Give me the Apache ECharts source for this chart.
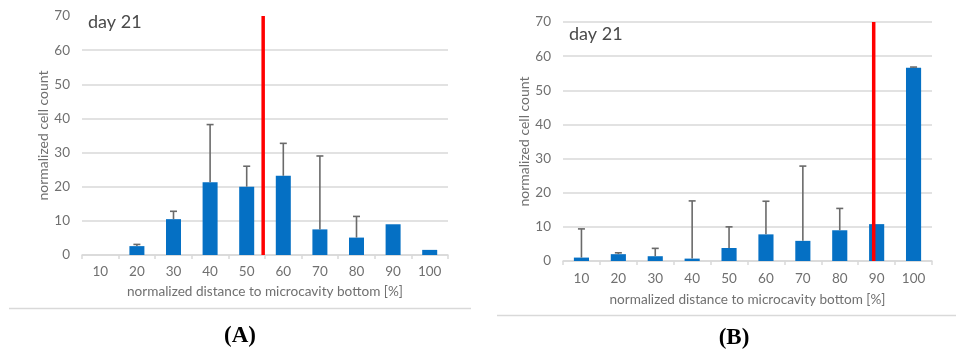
<!DOCTYPE html>
<html>
<head>
<meta charset="utf-8">
<script src="https://cdn.jsdelivr.net/npm/echarts@6/dist/echarts.min.js"></script>
<style>
  html, body { margin: 0; padding: 0; background: #ffffff; }
  #chart { width: 958px; height: 352px; }
</style>
</head>
<body>
<div id="chart"></div>
<script>
// Distance bins (% of microcavity depth)
const categories = ['10', '20', '30', '40', '50', '60', '70', '80', '90', '100'];
const yTicks = [0, 10, 20, 30, 40, 50, 60, 70];

// Panel A: mean normalized cell count and upper end of the error bar
const countsA = [0, 2.6, 10.5, 21.3, 20.0, 23.2, 7.5, 5.1, 9.0, 1.5];
const errTopA = [null, 3.1, 12.8, 38.2, 26.0, 32.7, 29.0, 11.3, null, null];
const markerA = 54.5;

// Panel B
const countsB = [1.0, 2.0, 1.4, 0.7, 3.8, 7.8, 5.9, 9.0, 10.8, 56.6];
const errTopB = [9.4, 2.4, 3.7, 17.6, 10.0, 17.5, 27.8, 15.4, null, 56.8];
const markerB = 89.2;

const FONT = 'Lato, "Open Sans", sans-serif';
const AXIS_TEXT = '#707070';
const GRID_LINE = '#d9d9d9';
const BAR_BLUE = '#0570c4';

const chart = echarts.init(document.getElementById('chart'), null, { renderer: 'canvas' });

function errorData(counts, tops) {
  const out = [];
  counts.forEach((v, i) => {
    if (tops[i] != null) out.push([i, v, tops[i]]);
  });
  return out;
}

function renderErrorBar(params, api) {
  const base = api.coord([api.value(0), api.value(1)]);
  const top = api.coord([api.value(0), api.value(2)]);
  const half = 3.5;
  const style = { stroke: '#6a6a6a', lineWidth: 1.6 };
  return {
    type: 'group',
    children: [
      { type: 'line', shape: { x1: base[0], y1: base[1], x2: top[0], y2: top[1] }, style },
      { type: 'line', shape: { x1: top[0] - half, y1: top[1], x2: top[0] + half, y2: top[1] }, style }
    ]
  };
}

function catAxis(gridIndex, labelMargin, nameGap) {
  return {
    type: 'category',
    gridIndex,
    data: categories,
    boundaryGap: true,
    name: 'normalized distance to microcavity bottom [%]',
    nameLocation: 'middle',
    nameGap,
    nameTextStyle: { color: AXIS_TEXT, fontFamily: FONT, fontSize: 13.6 },
    axisLine: { show: true, lineStyle: { color: GRID_LINE, width: 1.5 } },
    axisTick: { show: true, alignWithLabel: false, interval: 0, length: 4, lineStyle: { color: GRID_LINE, width: 1.5 } },
    axisLabel: { color: AXIS_TEXT, fontFamily: FONT, fontSize: 13.5, margin: labelMargin, interval: 0 },
    splitLine: { show: false }
  };
}

function markerAxis(gridIndex) {
  return { type: 'value', gridIndex, min: 5, max: 105, show: false, splitLine: { show: false } };
}

function valAxis(gridIndex, nameGap, showMax) {
  return {
    type: 'value',
    gridIndex,
    min: yTicks[0],
    max: yTicks[yTicks.length - 1],
    interval: 10,
    name: 'normalized cell count',
    nameLocation: 'middle',
    nameGap,
    nameTextStyle: { color: AXIS_TEXT, fontFamily: FONT, fontSize: 14 },
    axisLine: { show: false },
    axisTick: { show: false },
    axisLabel: { color: AXIS_TEXT, fontFamily: FONT, fontSize: 13.5, margin: 12 },
    splitLine: { show: true, showMaxLine: showMax, lineStyle: { color: GRID_LINE, width: 1.5 } }
  };
}

function markerSeries(xAxisIndex, yAxisIndex, x) {
  return {
    type: 'line',
    xAxisIndex,
    yAxisIndex,
    data: [[x, yTicks[0]], [x, yTicks[yTicks.length - 1]]],
    symbol: 'none',
    lineStyle: { color: '#ff0000', width: 3.5 },
    z: 10,
    silent: true
  };
}

const option = {
  animation: false,
  backgroundColor: '#ffffff',
  grid: [
    { left: 82, top: 16, width: 366, height: 239 },
    { left: 563, top: 22, width: 369, height: 239 }
  ],
  xAxis: [
    catAxis(0, 10, 30),
    markerAxis(0),
    catAxis(1, 11, 32),
    markerAxis(1)
  ],
  yAxis: [
    valAxis(0, 31, false),
    valAxis(1, 32, true)
  ],
  series: [
    {
      type: 'bar', xAxisIndex: 0, yAxisIndex: 0, data: countsA,
      barWidth: '41%', itemStyle: { color: BAR_BLUE }
    },
    {
      type: 'custom', xAxisIndex: 0, yAxisIndex: 0,
      data: errorData(countsA, errTopA), renderItem: renderErrorBar, z: 5
    },
    markerSeries(1, 0, markerA),
    {
      type: 'bar', xAxisIndex: 2, yAxisIndex: 1, data: countsB,
      barWidth: '41%', itemStyle: { color: BAR_BLUE }
    },
    {
      type: 'custom', xAxisIndex: 2, yAxisIndex: 1,
      data: errorData(countsB, errTopB), renderItem: renderErrorBar, z: 5
    },
    markerSeries(3, 1, markerB)
  ],
  graphic: [
    { type: 'text', left: 88, top: 13, style: { text: 'day 21', fill: '#4a4a4a', font: '18px ' + FONT } },
    { type: 'text', left: 569, top: 25, style: { text: 'day 21', fill: '#4a4a4a', font: '18px ' + FONT } },
    { type: 'line', shape: { x1: 9, y1: 308.5, x2: 471, y2: 308.5 }, style: { stroke: GRID_LINE, lineWidth: 1.5 } },
    { type: 'line', shape: { x1: 497, y1: 315.5, x2: 956, y2: 315.5 }, style: { stroke: GRID_LINE, lineWidth: 1.5 } },
    { type: 'text', x: 240, y: 336, style: { text: '(A)', fill: '#000000', font: 'bold 23px "Liberation Serif", "DejaVu Serif", serif', align: 'center', verticalAlign: 'middle' } },
    { type: 'text', x: 734, y: 338, style: { text: '(B)', fill: '#000000', font: 'bold 23px "Liberation Serif", "DejaVu Serif", serif', align: 'center', verticalAlign: 'middle' } }
  ]
};

chart.setOption(option);
</script>
</body>
</html>
